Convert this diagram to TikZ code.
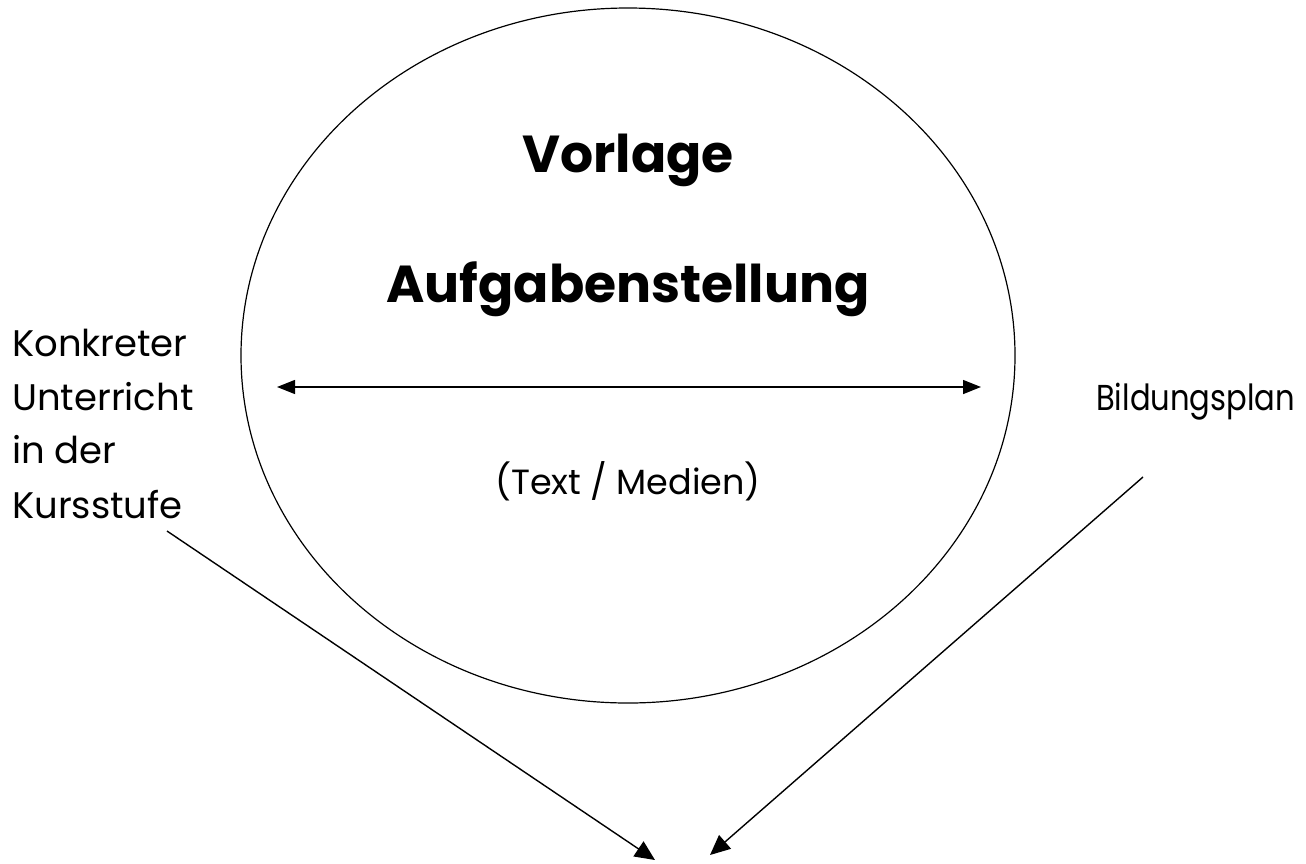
\documentclass[tikz,border=0pt]{standalone}
\usepackage{fontspec}
\setmainfont{Poppins}
\usetikzlibrary{arrows.meta,shapes.geometric}
\tikzset{
  x=1pt,y=-1pt,
  title/.style={font=\bfseries\fontsize{52}{60}\selectfont, anchor=base, inner sep=0},
  side/.style={font=\fontsize{37}{54}\selectfont, anchor=base west, inner sep=0},
  conn/.style={line width=1.4pt, -{Triangle[length=20pt,width=18pt]}},
  dbl/.style={line width=1.4pt, {Triangle[length=18pt,width=14pt]}-{Triangle[length=18pt,width=14pt]}}
}
\begin{document}
\begin{tikzpicture}
\useasboundingbox (0,0) rectangle (1306,863);
\node[draw, line width=1.2pt, ellipse, minimum width=774pt, minimum height=695pt, inner sep=0] (circ) at (628,355.5) {};
\node[title] (vorlage) at (628,172) {Vorlage};
\node[title] (aufg) at (628,302) {Aufgabenstellung};
\node[font=\fontsize{35}{40}\selectfont, anchor=base, inner sep=0] (medien) at (628,494) {(Text / Medien)};
\node[side] (l1) at (12,356) {Konkreter};
\node[side] (l2) at (12,410) {Unterricht};
\node[side] (l3) at (12,463) {in der};
\node[side] (l4) at (12,518) {Kursstufe};
\node[side, font=\fontsize{36}{40}\selectfont] (bild) at (1096,410) {\scalebox{0.85}[1]{Bildungsplan}};
\coordinate (dL) at (277,387);
\coordinate (dR) at (981,387);
\draw[dbl] (dL) -- (dR);
\coordinate (sL) at (167,531);
\coordinate (tL) at (655,860);
\coordinate (sR) at (1143,477);
\coordinate (tR) at (710,855);
\draw[conn] (sL) -- (tL);
\draw[conn] (sR) -- (tR);
\end{tikzpicture}
\end{document}
